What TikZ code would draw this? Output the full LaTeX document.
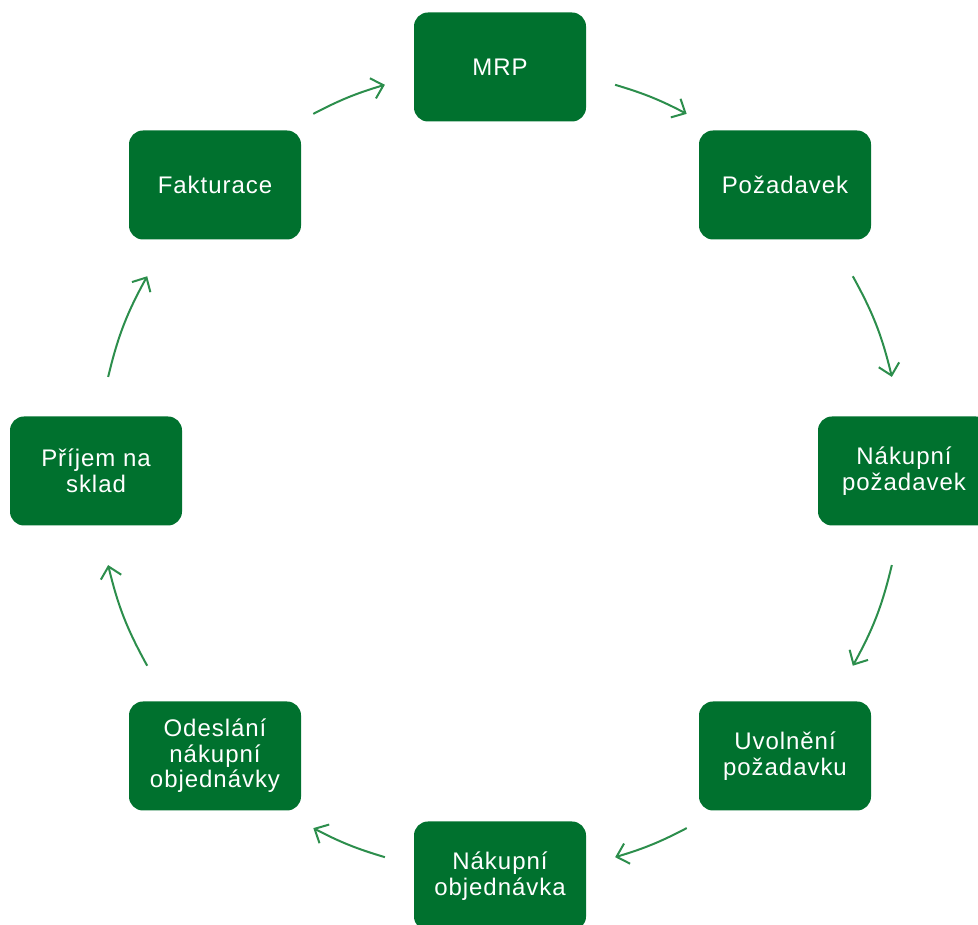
\documentclass[tikz,border=0pt]{standalone}
\usepackage{fontspec}
\newfontfamily\boxfont{Liberation Sans}[LetterSpace=4]
\usetikzlibrary{arrows.meta}
\definecolor{boxgreen}{RGB}{0,113,46}
\definecolor{arrowgreen}{RGB}{44,142,76}
\tikzset{
  stepbox/.style={rectangle, rounded corners=14pt, fill=boxgreen, draw=none,
    minimum width=172pt, minimum height=109pt, inner sep=0pt,
    text=white, align=center,
    font=\boxfont\fontsize{24}{25.5}\selectfont},
  arr/.style={draw=arrowgreen, line width=2pt,
    -{Straight Barb[length=11pt,width=21pt,line width=2pt]}},
}
\begin{document}
\begin{tikzpicture}[x=1pt,y=1pt]
\useasboundingbox (0,0) rectangle (978,925);
\coordinate (C) at (500,454);
\node[stepbox] (mrp) at (500,858) {MRP};
\node[stepbox] (poz) at (785,740) {Požadavek};
\node[stepbox] (npoz) at (904,454) {Nákupní\\požadavek};
\node[stepbox] (uvol) at (785,169) {Uvolnění\\požadavku};
\node[stepbox] (nobj) at (500,49) {Nákupní\\objednávka};
\node[stepbox] (odes) at (215,169) {Odeslání\\nákupní\\objednávky};
\node[stepbox] (prij) at (96,454) {Příjem na\\sklad};
\node[stepbox] (fakt) at (215,740) {Fakturace};
% arc end points on the circle
\coordinate (s1) at ([shift={(73.4:403pt)}]C);
\coordinate (e1) at ([shift={(62.4:403pt)}]C);
\coordinate (s2) at ([shift={(28.9:403pt)}]C);
\coordinate (e2) at ([shift={(13.5:403pt)}]C);
\coordinate (s3) at ([shift={(-13.5:403pt)}]C);
\coordinate (e3) at ([shift={(-28.9:403pt)}]C);
\coordinate (s4) at ([shift={(-62.4:403pt)}]C);
\coordinate (e4) at ([shift={(-73.4:403pt)}]C);
\coordinate (s5) at ([shift={(-106.6:403pt)}]C);
\coordinate (e5) at ([shift={(-117.6:403pt)}]C);
\coordinate (s6) at ([shift={(-151.1:403pt)}]C);
\coordinate (e6) at ([shift={(-166.5:403pt)}]C);
\coordinate (s7) at ([shift={(166.5:403pt)}]C);
\coordinate (e7) at ([shift={(151.1:403pt)}]C);
\coordinate (s8) at ([shift={(117.6:403pt)}]C);
\coordinate (e8) at ([shift={(106.6:403pt)}]C);
\draw[arr] (s1) to[bend left=5.5] (e1);
\draw[arr] (s2) to[bend left=7.7] (e2);
\draw[arr] (s3) to[bend left=7.7] (e3);
\draw[arr] (s4) to[bend left=5.5] (e4);
\draw[arr] (s5) to[bend left=5.5] (e5);
\draw[arr] (s6) to[bend left=7.7] (e6);
\draw[arr] (s7) to[bend left=7.7] (e7);
\draw[arr] (s8) to[bend left=5.5] (e8);
\end{tikzpicture}
\end{document}
